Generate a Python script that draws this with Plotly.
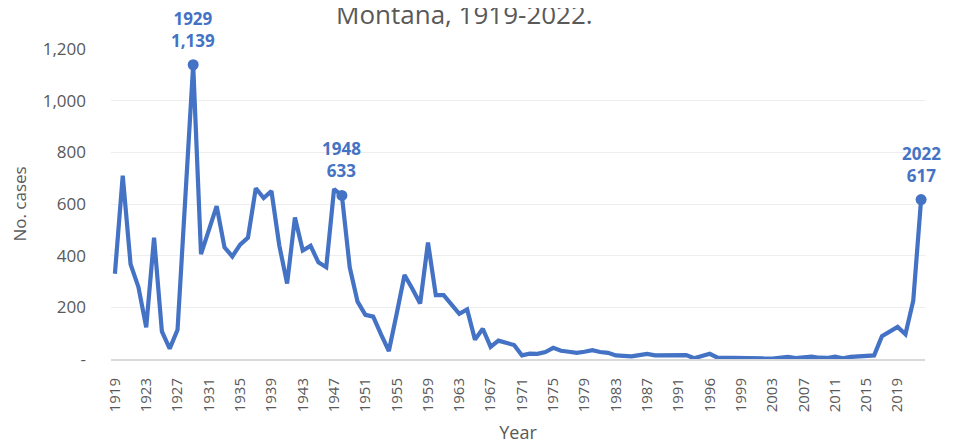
import plotly.graph_objects as go

years = list(range(1919, 2023))
cases = [
    330, 710, 367, 279, 123, 470, 107, 40, 113, 620,      # 1919-1928
    1139, 406, 500, 592, 432, 397, 443, 470, 661, 623,    # 1929-1938
    650, 440, 292, 548, 420, 438, 374, 355, 658, 633,     # 1939-1948
    355, 222, 171, 164, 95, 31, 175, 325, 272, 215,       # 1949-1958
    451, 247, 247, 210, 175, 192, 75, 117, 47, 71,        # 1959-1968
    62, 54, 14, 21, 20, 27, 43, 32, 28, 24,               # 1969-1978
    28, 34, 27, 24, 14, 11, 10, 15, 20, 14,               # 1979-1988
    14, 14, 15, 15, 3, 10, 20, 5, 4, 2,                   # 1989-1998
    3, 2, 2, 2, 2, 5, 8, 4, 8, 9,                         # 1999-2008
    5, 4, 9, 3, 8, 11, 10, 14, 88, 107,                   # 2009-2018
    124, 96, 226, 617,                                    # 2019-2022
]

tick_years = [1919, 1923, 1927, 1931, 1935, 1939, 1943, 1947, 1951, 1955, 1959,
              1963, 1967, 1971, 1975, 1979, 1983, 1987, 1991, 1995, 1999, 2003,
              2007, 2011, 2015, 2019]
tick_labels = ["1919", "1923", "1927", "1931", "1935", "1939", "1943", "1947",
               "1951", "1955", "1959", "1963", "1967", "1971", "1975", "1979",
               "1983", "1987", "1991", "1996", "1999", "2003", "2007", "2011",
               "2015", "2019"]

y_ticks = [0, 200, 400, 600, 800, 1000, 1200]
y_tick_labels = ["-", "200", "400", "600", "800", "1,000", "1,200"]

highlight_years = [1929, 1948, 2022]
highlight_values = [cases[years.index(y)] for y in highlight_years]

title_text = "Montana, 1919-2022."
BLUE = "#4472C4"
GRAY = "#595959"
FONT = "Open Sans"

fig = go.Figure()
fig.add_trace(go.Scatter(
    x=years, y=cases, mode="lines",
    line=dict(color=BLUE, width=4.2),
    hoverinfo="skip", showlegend=False,
))
fig.add_trace(go.Scatter(
    x=highlight_years, y=highlight_values, mode="markers",
    marker=dict(color=BLUE, size=11),
    cliponaxis=False, showlegend=False,
))

for yr, v in zip(highlight_years, highlight_values):
    fig.add_annotation(
        x=yr, y=v, xref="x", yref="y",
        text=f"<b>{yr}</b><br><b>{v:,}</b>",
        showarrow=False, yanchor="bottom", yshift=12, borderpad=0,
        font=dict(family=FONT, size=17, color=BLUE),
    )

fig.add_annotation(
    x=0.4345, y=1, xref="paper", yref="paper",
    xanchor="center", yanchor="middle", yshift=35, showarrow=False,
    text=title_text, font=dict(family=FONT, size=26, color=GRAY),
)

fig.update_layout(
    width=954, height=444,
    margin=dict(l=100, r=37, t=41, b=89),
    paper_bgcolor="white", plot_bgcolor="white",
    font=dict(family=FONT, color=GRAY, size=15),
    xaxis=dict(
        range=[1918.5, 2022.5],
        tickmode="array", tickvals=tick_years, ticktext=tick_labels,
        tickangle=-90, tickfont=dict(size=15, color=GRAY),
        showgrid=False, zeroline=False,
        showline=True, linecolor="#d9d9d9", linewidth=2,
        ticks="", ticklabelstandoff=11,
        title=dict(text="Year", font=dict(size=18, color=GRAY), standoff=15),
    ),
    yaxis=dict(
        range=[0, 1200],
        tickmode="array", tickvals=y_ticks, ticktext=y_tick_labels,
        tickfont=dict(size=17, color=GRAY),
        showgrid=True, gridcolor="#eeeeee", gridwidth=1,
        zeroline=False, showline=False, ticks="",
        ticklabelstandoff=24,
        title=dict(text="No. cases", font=dict(size=17, color=GRAY), standoff=11),
    ),
)

fig.write_html("out.html")
